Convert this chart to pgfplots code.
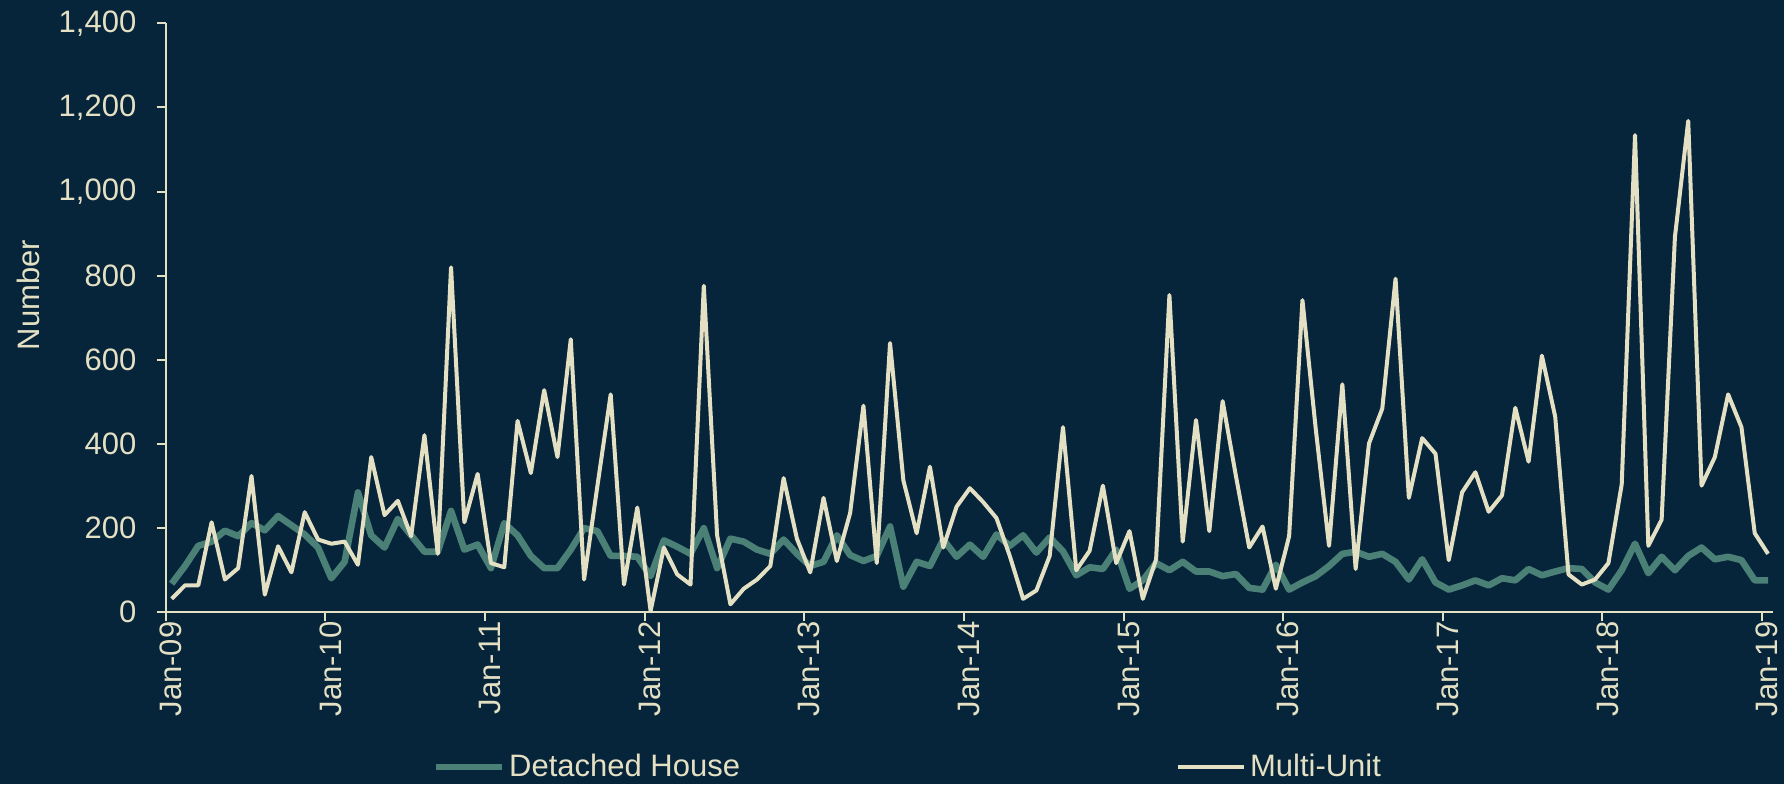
\documentclass[border=0pt]{standalone}
\usepackage{pgfplots}
\pgfplotsset{compat=1.18}
\usepackage{fontspec}
\setmainfont{Liberation Sans}
\definecolor{bg}{RGB}{6,36,58}
\definecolor{teal}{RGB}{74,128,118}
\definecolor{cream}{RGB}{228,224,196}
\begin{document}
\begin{tikzpicture}
\fill[bg] (-82.85pt,-85.85pt) rectangle (809.15pt,306.15pt);
\begin{axis}[
  scale only axis, width=803.5pt, height=294.5pt,
  xmin=0, xmax=120.8, ymin=0, ymax=1400,
  axis lines*=left,
  axis line style={cream, line width=1pt, -},
  tick style={cream, line width=1pt},
  tick align=outside, major tick length=4.5pt,
  xtick={0,12,...,120},
  xticklabels={Jan-09,Jan-10,Jan-11,Jan-12,Jan-13,Jan-14,Jan-15,Jan-16,Jan-17,Jan-18,Jan-19},
  ytick={0,200,...,1400},
  font=\fontsize{15.5pt}{18pt}\selectfont,
  ticklabel style={text=cream},
  /pgf/number format/assume math mode=true,
  /pgf/number format/.cd, 1000 sep={,},
  /pgfplots/.cd,
  yticklabel style={anchor=east, inner sep=0pt, xshift=-10pt},
  xticklabel style={xshift=2.5pt, rotate=90, anchor=east, inner sep=0pt},
  ylabel={Number},
  ylabel style={text=cream, at={(axis description cs:-0.0857,0.5387)}, anchor=center, rotate=0},
  legend columns=2,
  legend style={at={(axis description cs:0.1658,-0.2624)}, anchor=west, draw=none, fill=none, text=cream, inner sep=0pt,
    nodes={inner xsep=2pt},
    /tikz/every even column/.append style={column sep=216pt}},
  legend image code/.code={\draw[#1] (0pt,0pt) -- (33pt,0pt);},
  clip=false,
]
\addplot[teal, line width=3.3pt, line join=round] table[x expr=\coordindex+0.45, y index=0] {
v
68
110
158
168
194
181
212
195
229
207
185
154
81
120
285
183
154
222
183
144
144
241
149
161
105
212
183
134
105
105
149
200
193
134
134
132
86
171
156
139
200
105
175
168
149
139
173
139
110
120
183
136
122
134
204
61
120
110
173
132
161
132
185
158
183
142
178
145
88
107
103
149
56
76
117
100
120
97
97
86
91
58
54
113
54
71
86
110
139
144
132
139
120
78
126
71
54
64
76
64
81
76
103
88
97
105
103
71
54
100
163
93
132
100
134
154
126
132
124
76
76
};
\addlegendentry{Detached House}
\addplot[cream, line width=2pt, line join=round] table[x expr=\coordindex+0.45, y index=0] {
v
32
64
64
214
78
105
324
42
157
95
238
173
163
168
113
369
231
265
181
421
139
820
214
329
117
107
455
331
528
369
649
78
300
518
66
249
3
154
90
66
776
183
19
56
78
110
319
175
95
272
122
236
491
117
640
314
188
346
154
251
295
262
224
134
32
52
134
440
100
146
301
117
193
32
126
754
168
457
193
502
324
154
204
56
181
742
436
158
542
103
401
484
793
272
414
377
124
285
333
239
278
486
358
610
465
90
66
78
117
304
1134
158
220
892
1168
301
369
518
440
188
139
};
\addlegendentry{Multi-Unit}
\end{axis}
\pgfresetboundingbox
\useasboundingbox (-82.85pt,-85.85pt) rectangle (809.15pt,306.15pt);
\end{tikzpicture}
\end{document}
